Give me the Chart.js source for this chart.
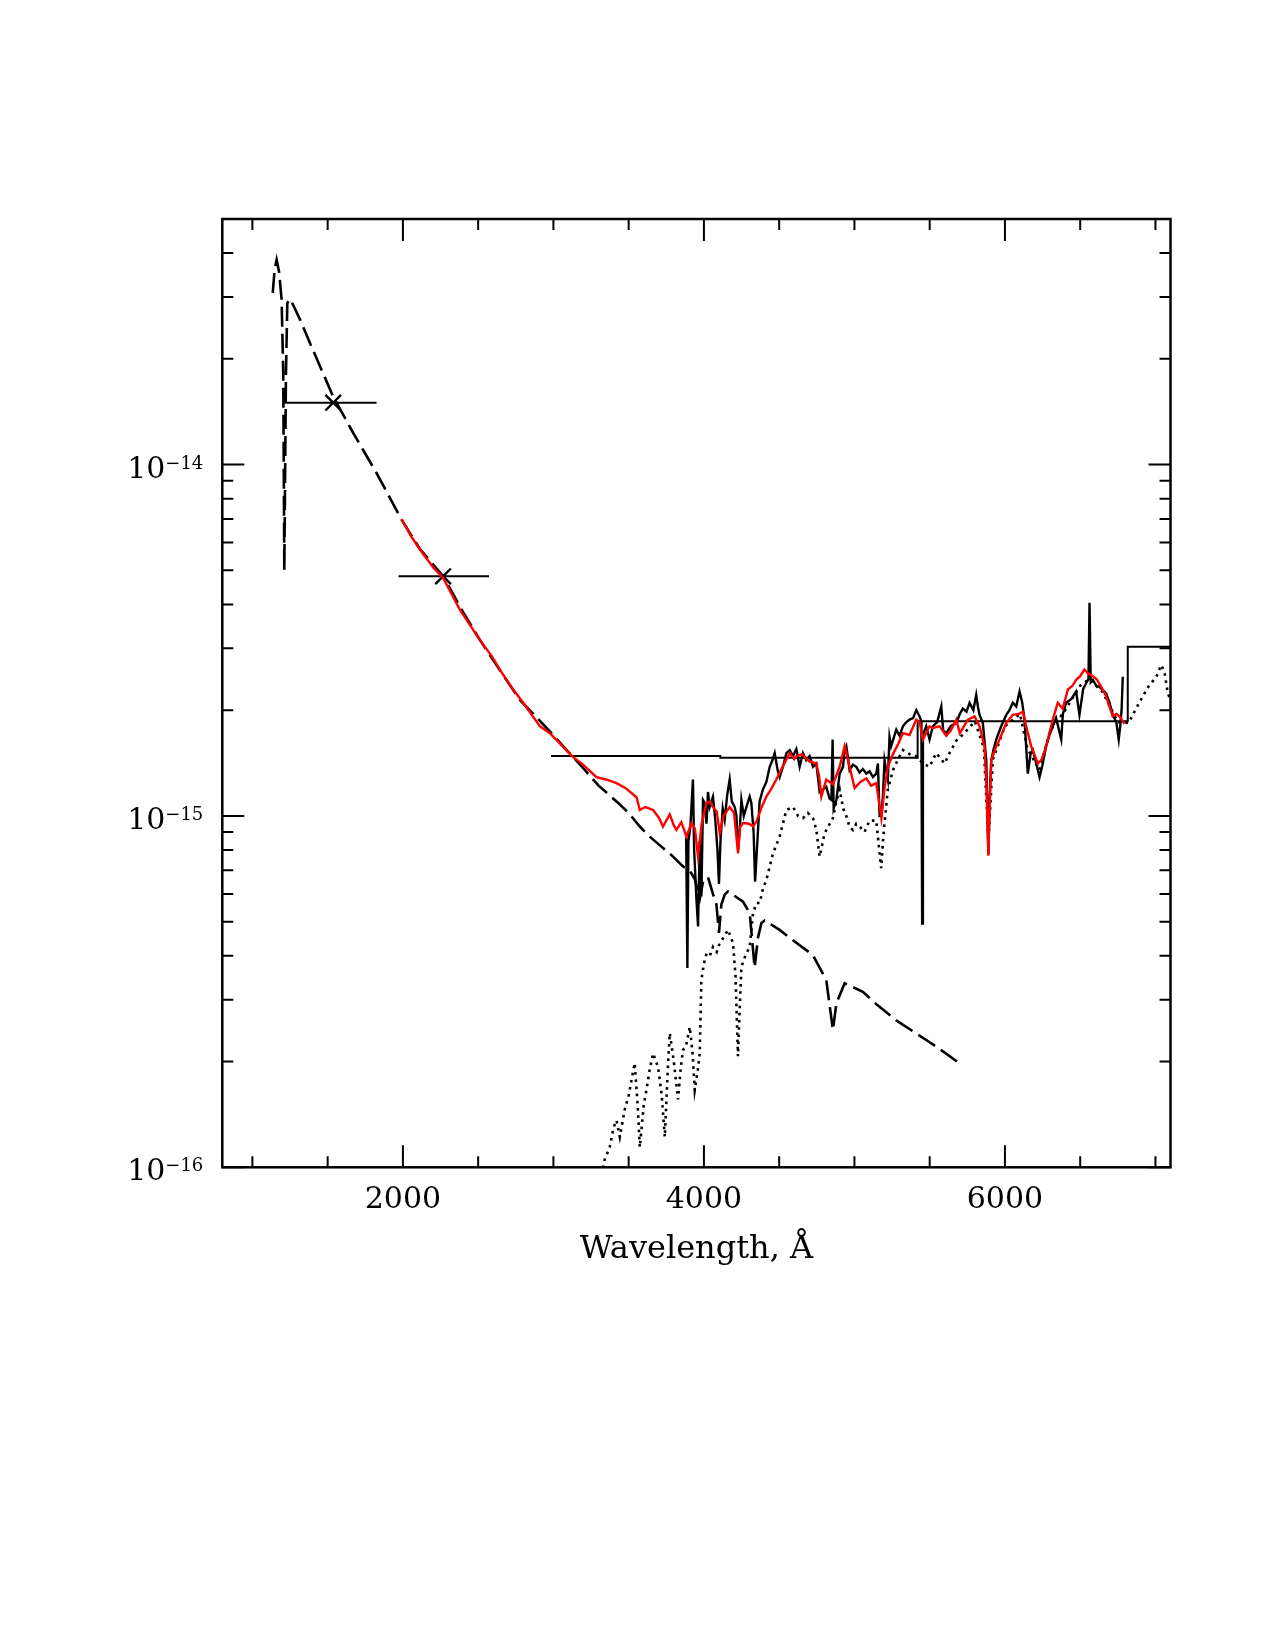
<!DOCTYPE html>
<html>
<head>
<meta charset="utf-8">
<script src="https://cdn.jsdelivr.net/npm/chart.js"></script>
<style>
    html, body { margin: 0; padding: 0; background: #ffffff; }
    #wrap { width: 1275px; height: 1650px; }
</style>
</head>
<body>
<div id="wrap"><canvas id="sedChart" width="1275" height="1650"></canvas></div>
<script>
// hot component model (dashed)
const hotWave = [1135, 1148, 1161, 1178, 1194, 1205, 1212, 1223, 1232, 1250, 1270, 1316, 1400, 1537, 1670, 1825, 1991, 2113, 2268, 2400, 2511, 2644, 2777, 2976, 3100, 3197, 3300, 3419, 3500, 3574, 3640, 3700, 3795, 3861, 3905, 3940, 3972, 3994, 4027, 4060, 4083, 4100, 4116, 4138, 4160, 4260, 4304, 4337, 4359, 4382, 4404, 4503, 4600, 4724, 4813, 4857, 4880, 4935, 5056, 5150, 5278, 5400, 5500, 5600, 5681];
const hotFlux = [3.08e-14, 3.6e-14, 3.83e-14, 3.52e-14, 2.95e-14, 1.82e-14, 5.0e-15, 1.82e-14, 2.88e-14, 2.96e-14, 2.85e-14, 2.59e-14, 2.13e-14, 1.56e-14, 1.23e-14, 9.46e-15, 6.97e-15, 5.75e-15, 4.81e-15, 3.8e-15, 3.17e-15, 2.6e-15, 2.14e-15, 1.74e-15, 1.52e-15, 1.37e-15, 1.22e-15, 1.10e-15, 1.02e-15, 9.33e-16, 8.73e-16, 8.3e-16, 7.66e-16, 7.18e-16, 7.0e-16, 6.6e-16, 5.8e-16, 6.5e-16, 6.7e-16, 6.0e-16, 5.6e-16, 4.65e-16, 5.6e-16, 5.97e-16, 6.1e-16, 5.7e-16, 5.3e-16, 3.7e-16, 4.5e-16, 4.96e-16, 5.04e-16, 4.74e-16, 4.4e-16, 4.02e-16, 3.41e-16, 2.46e-16, 2.93e-16, 3.34e-16, 3.16e-16, 2.9e-16, 2.62e-16, 2.42e-16, 2.27e-16, 2.12e-16, 2.0e-16];

// cool component model (dotted)
const coolWave = [3320, 3340, 3374, 3400, 3419, 3441, 3474, 3500, 3540, 3560, 3574, 3600, 3618, 3640, 3662, 3695, 3720, 3740, 3760, 3773, 3800, 3828, 3845, 3861, 3880, 3906, 3925, 3939, 3960, 3972, 3983, 4000, 4017, 4040, 4060, 4085, 4105, 4130, 4160, 4193, 4210, 4226, 4240, 4249, 4275, 4304, 4326, 4349, 4370, 4392, 4415, 4459, 4503, 4548, 4592, 4625, 4658, 4690, 4725, 4747, 4769, 4802, 4830, 4857, 4880, 4902, 4925, 4946, 4968, 4990, 5012, 5034, 5067, 5100, 5145, 5167, 5178, 5190, 5200, 5222, 5256, 5290, 5322, 5366, 5411, 5455, 5499, 5543, 5599, 5632, 5677, 5730, 5800, 5860, 5890, 5920, 6000, 6100, 6150, 6230, 6300, 6400, 6500, 6560, 6650, 6750, 6822, 6849, 6916, 6960, 7005, 7038, 7060, 7082, 7100];
const coolFlux = [9.5e-17, 1.05e-16, 1.14e-16, 1.3e-16, 1.36e-16, 1.22e-16, 1.46e-16, 1.6e-16, 1.98e-16, 1.5e-16, 1.14e-16, 1.5e-16, 1.66e-16, 1.9e-16, 2.11e-16, 1.93e-16, 1.6e-16, 1.22e-16, 1.9e-16, 2.41e-16, 2.0e-16, 1.56e-16, 1.9e-16, 2.16e-16, 2.2e-16, 2.51e-16, 2.1e-16, 1.66e-16, 1.9e-16, 2.11e-16, 3.41e-16, 3.8e-16, 4.06e-16, 4.0e-16, 4.24e-16, 4.1e-16, 4.35e-16, 4.5e-16, 4.74e-16, 4.35e-16, 3.5e-16, 2.07e-16, 3.0e-16, 3.72e-16, 4.0e-16, 4.24e-16, 5.28e-16, 5.65e-16, 5.65e-16, 6.2e-16, 6.58e-16, 7.83e-16, 8.73e-16, 1.04e-15, 1.06e-15, 1.0e-15, 9.86e-16, 1.02e-15, 9.86e-16, 9.12e-16, 7.66e-16, 8.93e-16, 9.4e-16, 9.86e-16, 1.1e-15, 1.19e-15, 1.05e-15, 1.0e-15, 9.3e-16, 9.12e-16, 9.5e-16, 9.33e-16, 9.0e-16, 9.7e-16, 9.7e-16, 7.83e-16, 7.1e-16, 8.5e-16, 9.55e-16, 1.19e-15, 1.35e-15, 1.45e-15, 1.54e-15, 1.5e-15, 1.48e-15, 1.41e-15, 1.38e-15, 1.51e-15, 1.41e-15, 1.51e-15, 1.64e-15, 1.72e-15, 1.86e-15, 1.56e-15, 8.5e-16, 1.45e-15, 1.8e-15, 1.95e-15, 1.55e-15, 1.35e-15, 1.75e-15, 2.0e-15, 2.35e-15, 2.45e-15, 2.25e-15, 1.85e-15, 1.84e-15, 1.94e-15, 2.19e-15, 2.36e-15, 2.48e-15, 2.69e-15, 2.57e-15, 2.23e-15, 2.15e-15];

// composite model (red)
const redWave = [1990, 2050, 2113, 2200, 2268, 2379, 2511, 2590, 2644, 2720, 2799, 2910, 2976, 3060, 3131, 3197, 3286, 3350, 3419, 3480, 3552, 3574, 3610, 3662, 3700, 3728, 3773, 3800, 3817, 3850, 3884, 3917, 3940, 3961, 3985, 4017, 4040, 4060, 4085, 4105, 4130, 4171, 4200, 4227, 4240, 4260, 4300, 4326, 4349, 4380, 4415, 4450, 4481, 4530, 4570, 4600, 4614, 4650, 4700, 4747, 4765, 4780, 4813, 4857, 4902, 4935, 4968, 5001, 5040, 5079, 5110, 5145, 5179, 5200, 5222, 5256, 5290, 5322, 5366, 5411, 5433, 5455, 5499, 5521, 5566, 5610, 5640, 5677, 5700, 5754, 5798, 5831, 5864, 5878, 5890, 5900, 5909, 5935, 5964, 6009, 6052, 6090, 6119, 6141, 6174, 6219, 6245, 6274, 6318, 6351, 6384, 6418, 6450, 6473, 6500, 6528, 6550, 6584, 6610, 6640, 6670, 6694, 6716, 6740, 6761, 6794];
const redFlux = [7.0e-15, 6.3e-15, 5.73e-15, 5.1e-15, 4.75e-15, 3.86e-15, 3.17e-15, 2.85e-15, 2.61e-15, 2.33e-15, 2.10e-15, 1.80e-15, 1.72e-15, 1.58e-15, 1.47e-15, 1.40e-15, 1.29e-15, 1.27e-15, 1.24e-15, 1.2e-15, 1.13e-15, 1.04e-15, 1.06e-15, 1.04e-15, 9.9e-16, 9.33e-16, 1.01e-15, 9.4e-16, 9.12e-16, 9.6e-16, 8.73e-16, 9.55e-16, 9.2e-16, 7.66e-16, 9.5e-16, 1.09e-15, 1.1e-15, 1.06e-15, 1.03e-15, 8.93e-16, 1.0e-15, 1.06e-15, 1.02e-15, 7.83e-16, 9.3e-16, 9.55e-16, 9.5e-16, 9.33e-16, 9.64e-16, 1.05e-15, 1.135e-15, 1.2e-15, 1.27e-15, 1.4e-15, 1.51e-15, 1.45e-15, 1.48e-15, 1.5e-15, 1.43e-15, 1.41e-15, 1.3e-15, 1.135e-15, 1.27e-15, 1.23e-15, 1.38e-15, 1.58e-15, 1.38e-15, 1.20e-15, 1.25e-15, 1.28e-15, 1.22e-15, 1.24e-15, 9.86e-16, 1.2e-15, 1.38e-15, 1.5e-15, 1.6e-15, 1.72e-15, 1.7e-15, 1.88e-15, 1.85e-15, 1.65e-15, 1.8e-15, 1.78e-15, 1.80e-15, 1.69e-15, 1.75e-15, 1.88e-15, 1.72e-15, 1.88e-15, 1.92e-15, 1.80e-15, 1.58e-15, 1.2e-15, 7.7e-16, 1.1e-15, 1.44e-15, 1.55e-15, 1.65e-15, 1.84e-15, 1.94e-15, 1.95e-15, 1.98e-15, 1.80e-15, 1.58e-15, 1.41e-15, 1.45e-15, 1.58e-15, 1.88e-15, 2.10e-15, 2.02e-15, 2.29e-15, 2.35e-15, 2.44e-15, 2.5e-15, 2.61e-15, 2.55e-15, 2.5e-15, 2.45e-15, 2.33e-15, 2.2e-15, 2.05e-15, 1.92e-15, 1.95e-15, 1.92e-15, 1.83e-15];

// observed optical spectrum (black)
const optWave = [3882, 3890, 3897, 3910, 3927, 3935, 3950, 3961, 3972, 3983, 3994, 4005, 4017, 4027, 4038, 4060, 4075, 4090, 4100, 4110, 4125, 4138, 4155, 4171, 4185, 4205, 4216, 4227, 4238, 4249, 4265, 4282, 4304, 4315, 4330, 4340, 4352, 4370, 4392, 4415, 4437, 4455, 4470, 4490, 4503, 4525, 4548, 4570, 4592, 4614, 4636, 4658, 4680, 4702, 4725, 4747, 4769, 4791, 4813, 4835, 4847, 4855, 4862, 4880, 4902, 4924, 4935, 4946, 4968, 4990, 5012, 5034, 5056, 5079, 5101, 5123, 5145, 5156, 5167, 5179, 5189, 5200, 5222, 5233, 5244, 5278, 5300, 5322, 5345, 5366, 5390, 5411, 5433, 5445, 5450, 5455, 5477, 5499, 5521, 5550, 5577, 5590, 5610, 5640, 5677, 5700, 5720, 5745, 5765, 5790, 5809, 5820, 5831, 5853, 5876, 5885, 5890, 5897, 5909, 5925, 5942, 5975, 6009, 6030, 6052, 6075, 6097, 6115, 6130, 6152, 6170, 6185, 6210, 6230, 6250, 6274, 6296, 6318, 6340, 6374, 6385, 6407, 6440, 6473, 6495, 6520, 6540, 6555, 6562, 6570, 6584, 6606, 6628, 6650, 6673, 6695, 6716, 6740, 6756, 6766, 6775, 6783];
const optFlux = [8.7e-16, 3.69e-16, 8.5e-16, 9.3e-16, 1.27e-15, 8.0e-16, 5.8e-16, 4.85e-16, 8.5e-16, 5.9e-16, 1.11e-15, 1.09e-15, 9.5e-16, 1.17e-15, 1.06e-15, 1.135e-15, 9.8e-16, 8.0e-16, 6.4e-16, 8.5e-16, 1.05e-15, 9.77e-16, 1.15e-15, 1.27e-15, 1.1e-15, 1.06e-15, 1.0e-15, 8.0e-16, 9.12e-16, 1.11e-15, 1.0e-15, 1.06e-15, 1.135e-15, 1.09e-15, 9.0e-16, 6.5e-16, 8.0e-16, 1.1e-15, 1.19e-15, 1.25e-15, 1.38e-15, 1.44e-15, 1.51e-15, 1.35e-15, 1.29e-15, 1.38e-15, 1.51e-15, 1.54e-15, 1.48e-15, 1.55e-15, 1.38e-15, 1.51e-15, 1.44e-15, 1.48e-15, 1.38e-15, 1.41e-15, 1.17e-15, 1.19e-15, 1.21e-15, 1.12e-15, 1.11e-15, 1.65e-15, 1.05e-15, 1.11e-15, 1.32e-15, 1.38e-15, 1.54e-15, 1.58e-15, 1.35e-15, 1.4e-15, 1.38e-15, 1.33e-15, 1.36e-15, 1.32e-15, 1.34e-15, 1.29e-15, 1.32e-15, 1.41e-15, 1.0e-15, 1.0e-15, 1.135e-15, 1.44e-15, 1.27e-15, 1.68e-15, 1.58e-15, 1.76e-15, 1.69e-15, 1.8e-15, 1.85e-15, 1.88e-15, 1.9e-15, 2.0e-15, 1.92e-15, 1.86e-15, 4.94e-16, 1.7e-15, 1.80e-15, 1.65e-15, 1.80e-15, 1.85e-15, 2.05e-15, 1.75e-15, 1.72e-15, 1.8e-15, 1.84e-15, 1.95e-15, 2.02e-15, 1.98e-15, 2.10e-15, 2.0e-15, 2.21e-15, 2.05e-15, 1.94e-15, 1.84e-15, 1.44e-15, 9.5e-16, 7.8e-16, 1.1e-15, 1.44e-15, 1.55e-15, 1.65e-15, 1.8e-15, 1.94e-15, 2.0e-15, 2.10e-15, 2.05e-15, 2.26e-15, 2.1e-15, 1.88e-15, 1.32e-15, 1.5e-15, 1.54e-15, 1.4e-15, 1.29e-15, 1.4e-15, 1.58e-15, 1.7e-15, 1.80e-15, 1.9e-15, 1.65e-15, 1.95e-15, 2.10e-15, 2.15e-15, 2.26e-15, 1.94e-15, 2.3e-15, 2.39e-15, 2.45e-15, 4.04e-15, 2.4e-15, 2.44e-15, 2.35e-15, 2.33e-15, 2.28e-15, 2.23e-15, 2.1e-15, 1.94e-15, 1.85e-15, 1.65e-15, 1.80e-15, 2.0e-15, 2.49e-15];

// UV photometry: effective wavelength, flux, band edges
const photWave = [1537, 2267];
const photFlux = [1.50e-14, 4.81e-15];
const photLo = [1212, 1971];
const photHi = [1825, 2572];

// optical/IR band fluxes drawn as steps
const stepEdges = [2984, 4109, 5420, 6816, 7100];
const stepLevels = [1.48e-15, 1.465e-15, 1.86e-15, 3.03e-15];

// axis ticks
const xMajorTicks = [2000, 4000, 6000];
const xMajorLabels = ["2000", "4000", "6000"];
const xMinorTicks = [1000, 1500, 2500, 3000, 3500, 4500, 5000, 5500, 6500, 7000];
const yMajorTicks = [1e-16, 1e-15, 1e-14];
const yMajorExponents = ["\u221216", "\u221215", "\u221214"];
const yMinorTicks = [2e-16, 3e-16, 4e-16, 5e-16, 6e-16, 7e-16, 8e-16, 9e-16,
                     2e-15, 3e-15, 4e-15, 5e-15, 6e-15, 7e-15, 8e-15, 9e-15,
                     2e-14, 3e-14, 4e-14];

function pts(xs, ys) {
    return xs.map((x, i) => ({ x: x, y: ys[i] }));
}

function stepPts(edges, levels) {
    const out = [];
    levels.forEach((lv, i) => {
        out.push({ x: edges[i], y: lv });
        out.push({ x: edges[i + 1], y: lv });
    });
    return out;
}

function isMajor(list, v) {
    return list.some(m => Math.abs(m - v) / m < 1e-6);
}

// ticks drawn inward on all four sides, the frame, and the 10^n labels
const frameTicks = {
    id: "frameTicks",
    afterDraw(chart) {
        const { ctx, chartArea: a, scales: { x, y } } = chart;
        ctx.save();
        ctx.strokeStyle = "#000";
        ctx.lineCap = "butt";
        ctx.lineWidth = 2;
        ctx.beginPath();
        xMajorTicks.concat(xMinorTicks).forEach(v => {
            const px = x.getPixelForValue(v);
            const len = isMajor(xMajorTicks, v) ? 22 : 11;
            ctx.moveTo(px, a.bottom); ctx.lineTo(px, a.bottom - len);
            ctx.moveTo(px, a.top); ctx.lineTo(px, a.top + len);
        });
        yMajorTicks.concat(yMinorTicks).forEach(v => {
            const py = y.getPixelForValue(v);
            const len = isMajor(yMajorTicks, v) ? 22 : 11;
            ctx.moveTo(a.left, py); ctx.lineTo(a.left + len, py);
            ctx.moveTo(a.right, py); ctx.lineTo(a.right - len, py);
        });
        ctx.stroke();
        ctx.lineWidth = 2.5;
        ctx.strokeRect(a.left, a.top, a.right - a.left, a.bottom - a.top);

        // y labels: "10" with a raised exponent
        ctx.fillStyle = "#000";
        ctx.textBaseline = "alphabetic";
        ctx.textAlign = "left";
        yMajorTicks.forEach((v, i) => {
            const py = y.getPixelForValue(v);
            ctx.font = "18px 'DejaVu Serif'";
            const ew = ctx.measureText(yMajorExponents[i]).width;
            ctx.font = "30px 'DejaVu Serif'";
            const bw = ctx.measureText("10").width;
            const right = a.left - 19;
            ctx.fillText("10", right - ew - bw, py + 13);
            ctx.font = "18px 'DejaVu Serif'";
            ctx.fillText(yMajorExponents[i], right - ew, py + 4);
        });
        ctx.restore();
    }
};

const datasets = [
    {
        data: pts(redWave, redFlux),
        borderColor: "#ff0000",
        borderWidth: 2.4,
        order: 0
    },
    {
        data: pts(optWave, optFlux),
        borderColor: "#000000",
        borderWidth: 2.4,
        order: 1
    },
    {
        data: stepPts(stepEdges, stepLevels),
        borderColor: "#000000",
        borderWidth: 2,
        order: 2
    },
    {
        data: pts(photWave, photFlux),
        showLine: false,
        pointStyle: "crossRot",
        pointRadius: 11,
        borderColor: "#000000",
        pointBorderWidth: 2.4,
        order: 2
    },
    {
        data: pts(hotWave, hotFlux),
        borderColor: "#000000",
        borderWidth: 2.6,
        borderDash: [20, 7],
        order: 3
    },
    {
        data: pts(coolWave, coolFlux),
        borderColor: "#000000",
        borderWidth: 2.6,
        borderDash: [2.6, 4.6],
        order: 4
    }
];

photWave.forEach((w, i) => {
    datasets.push({
        data: [{ x: photLo[i], y: photFlux[i] }, { x: photHi[i], y: photFlux[i] }],
        borderColor: "#000000",
        borderWidth: 2,
        order: 2
    });
});

new Chart(document.getElementById("sedChart"), {
    type: "line",
    data: { datasets: datasets },
    options: {
        responsive: false,
        animation: false,
        devicePixelRatio: 1,
        layout: { padding: { left: 0, top: 219, right: 104.5, bottom: 380.7 } },
        elements: {
            line: { tension: 0, fill: false },
            point: { radius: 0 }
        },
        plugins: {
            legend: { display: false },
            tooltip: { enabled: false }
        },
        scales: {
            x: {
                type: "linear",
                min: 800,
                max: 7100,
                afterFit: s => { s.height = 102; },
                afterBuildTicks: s => {
                    s.ticks = xMajorTicks.concat(xMinorTicks).sort((a, b) => a - b).map(v => ({ value: v }));
                },
                grid: { display: false, drawTicks: false },
                border: { display: false },
                ticks: {
                    autoSkip: false,
                    maxRotation: 0,
                    padding: 15,
                    color: "#000",
                    font: { family: "DejaVu Serif", size: 30 },
                    callback: v => {
                        const i = xMajorTicks.indexOf(v);
                        return i >= 0 ? xMajorLabels[i] : "";
                    }
                },
                title: {
                    display: true,
                    text: "Wavelength, \u00C5",
                    color: "#000",
                    padding: 0,
                    font: { family: "DejaVu Serif", size: 32 }
                }
            },
            y: {
                type: "logarithmic",
                min: 1e-16,
                max: 5e-14,
                afterFit: s => { s.width = 222.3; },
                afterBuildTicks: s => {
                    s.ticks = yMajorTicks.concat(yMinorTicks).sort((a, b) => a - b).map(v => ({ value: v }));
                },
                grid: { display: false, drawTicks: false },
                border: { display: false },
                ticks: {
                    display: false
                }
            }
        }
    },
    plugins: [frameTicks]
});
</script>
</body>
</html>
